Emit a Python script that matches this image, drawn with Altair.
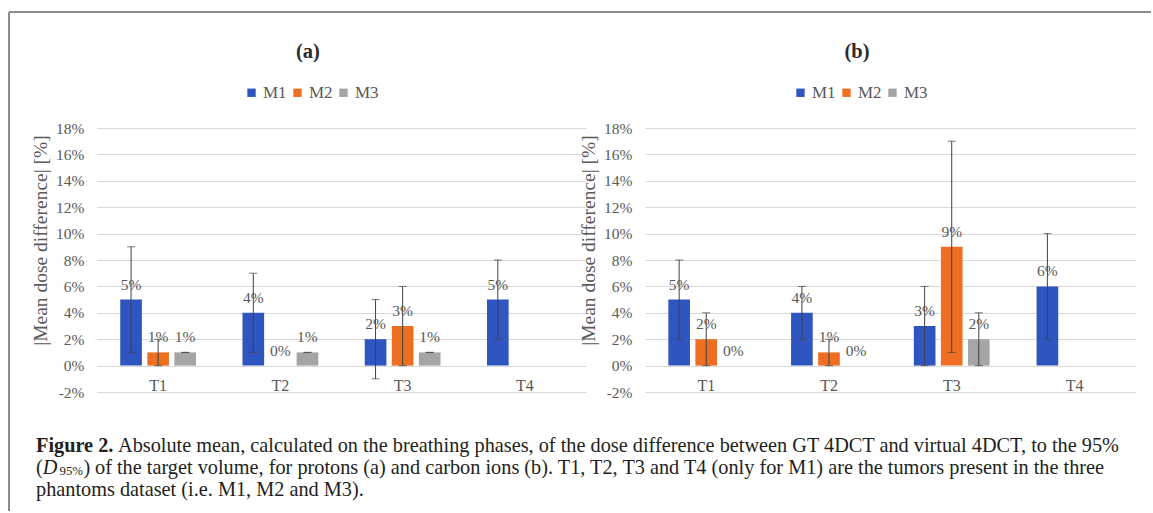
import altair as alt
import pandas as pd

# ---------------- data ----------------
targets = ["T1", "T2", "T3", "T4"]
methods = ["M1", "M2", "M3"]
colors = ["#2F55C0", "#EE6F22", "#A5A5A5"]

row_target = ["T1", "T1", "T1", "T2", "T2", "T2", "T3", "T3", "T3", "T4"]
row_method = ["M1", "M2", "M3", "M1", "M2", "M3", "M1", "M2", "M3", "M1"]

# (a) protons
a_value = [5, 1, 1, 4, 0, 1, 2, 3, 1, 5]
a_low = [1, 0, 1, 1, None, 1, -1, 0, 1, 2]
a_high = [9, 2, 1, 7, None, 1, 5, 6, 1, 8]

# (b) carbon ions
b_value = [5, 2, 0, 4, 1, 0, 3, 9, 2, 6]
b_low = [2, 0, None, 2, 0, None, 0, 1, 0, 2]
b_high = [8, 4, None, 6, 2, None, 6, 17, 4, 10]

y_ticks = [-2, 0, 2, 4, 6, 8, 10, 12, 14, 16, 18]

caption_l1_bold = "Figure 2."
caption_l1 = ("Absolute mean, calculated on the breathing phases, of the dose difference "
              "between GT 4DCT and virtual 4DCT, to the 95%")
caption_l2 = ("of the target volume, for protons (a) and carbon ions (b). T1, T2, T3 and T4 "
              "(only for M1) are the tumors present in the three")
caption_l3 = "phantoms dataset (i.e. M1, M2 and M3)."

SERIF = "Liberation Serif"
TXT = "#595959"
ERR = "#404040"
GRID = "#D9D9D9"
CAP = 20.3


def make_df(values, lows, highs):
    return pd.DataFrame({
        "target": row_target,
        "method": row_method,
        "value": values,
        "low": lows,
        "high": highs,
        "lbl": [f"{v}%" for v in values],
    })


def txt(s, x, y, size=CAP, weight="normal", style="normal", color="#231F20",
        align="left", baseline="middle"):
    return alt.Chart(alt.Data(values=[{"t": s}])).mark_text(
        align=align, baseline=baseline, font=SERIF, fontSize=size,
        fontWeight=weight, fontStyle=style, color=color
    ).encode(x=alt.value(x), y=alt.value(y), text="t:N")


yscale = alt.Scale(domain=[-2, 18], nice=False, zero=False)
y_axis = alt.Axis(values=y_ticks, labelExpr="datum.value + '%'",
                  labelOverlap=False, labelSeparation=0, labelBound=False,
                  title="|Mean dose difference| [%]",
                  titleFont=SERIF, titleFontSize=19.5, titleFontWeight="normal",
                  titleColor=TXT, titleX=-57, titleY=112,
                  titleAlign="center", titleBaseline="middle", titleAngle=270,
                  labelFont=SERIF, labelFontSize=15.5, labelColor=TXT,
                  labelPadding=13, domain=False, ticks=False,
                  grid=True, gridColor=GRID, gridWidth=1)


def panel(df, legend_x):
    base = alt.Chart(df).encode(
        x=alt.X("target:N", sort=targets,
                scale=alt.Scale(domain=targets, paddingInner=0.38, paddingOuter=0.19),
                axis=alt.Axis(title=None, domain=False, ticks=False, grid=False,
                              labelFont=SERIF, labelFontSize=16, labelColor=TXT,
                              labelAngle=0, labelPadding=12, offset=-26.4)),
        xOffset=alt.XOffset("method:N", sort=methods,
                            scale=alt.Scale(domain=methods, paddingInner=0.2, paddingOuter=0)),
    )
    bars = base.mark_bar().encode(
        y=alt.Y("value:Q", scale=yscale, axis=y_axis),
        color=alt.Color("method:N", sort=methods,
                        scale=alt.Scale(domain=methods, range=colors),
                        legend=alt.Legend(orient="none", legendX=legend_x, legendY=-44,
                                          direction="horizontal", title=None,
                                          symbolType="square", symbolSize=70,
                                          symbolStrokeWidth=0,
                                          labelFont=SERIF, labelFontSize=17,
                                          labelColor=TXT, labelOffset=3,
                                          columnPadding=2)),
    )
    valid = "isValid(datum.low) && datum.low !== null"
    errs = base.mark_rule(color=ERR, strokeWidth=1).encode(
        y=alt.Y("low:Q", scale=yscale, axis=y_axis), y2="high:Q").transform_filter(valid)
    cap_hi = base.mark_tick(color=ERR, thickness=1, size=8).encode(
        y=alt.Y("high:Q", scale=yscale, axis=y_axis)).transform_filter(valid)
    cap_lo = base.mark_tick(color=ERR, thickness=1, size=8).encode(
        y=alt.Y("low:Q", scale=yscale, axis=y_axis)).transform_filter(valid)
    labels = base.mark_text(dy=-15, font=SERIF, fontSize=15.5, color=TXT,
                            baseline="middle").encode(
        y=alt.Y("value:Q", scale=yscale, axis=y_axis), text="lbl:N")
    return bars, errs, cap_hi, cap_lo, labels


df_a = make_df(a_value, a_low, a_high)
df_b = make_df(b_value, b_low, b_high)

WA, WB, H = 489, 491, 264

pa = panel(df_a, 146)
pb = panel(df_b, 147)

one = alt.Data(values=[{"k": 0}])
border_left = alt.Chart(one).mark_rule(color="#8C8C8C", strokeWidth=2).encode(
    x=alt.value(-88), y=alt.value(-116), y2=alt.value(383))
border_top = alt.Chart(one).mark_rule(color="#8C8C8C", strokeWidth=2).encode(
    x=alt.value(-88), x2=alt.value(1054), y=alt.value(-116))

cx = -61
line2_parts = [
    txt("(", cx, 340),
    txt("D", cx + 6.8, 340, style="italic"),
    txt("95%", cx + 23.5, 343, size=12.8),
    txt(")", cx + 47.5, 340),
    txt(caption_l2, cx + 59, 340),
]

chart_a = alt.layer(
    *pa,
    txt("(a)", 211, -76, size=20.5, weight="bold", color="#2B2B2B", align="center"),
    border_left, border_top,
    txt(caption_l1_bold, cx, 318, weight="bold"),
    txt(caption_l1, cx + 82, 318),
    *line2_parts,
    txt(caption_l3, cx, 361.5),
).properties(width=WA, height=H)

chart_b = alt.layer(
    *pb,
    txt("(b)", 212, -76, size=20.5, weight="bold", color="#2B2B2B", align="center"),
).properties(width=WB, height=H)

chart = alt.hconcat(chart_a, chart_b, spacing=59, bounds="flush").resolve_scale(
    color="independent"
).properties(
    padding={"left": 8, "top": 11, "right": 0, "bottom": 0},
    background="white",
).configure_view(strokeWidth=0).configure_axis(labelOverlap=False)

chart.save("out.html", embed_options={"renderer": "svg", "actions": False})
